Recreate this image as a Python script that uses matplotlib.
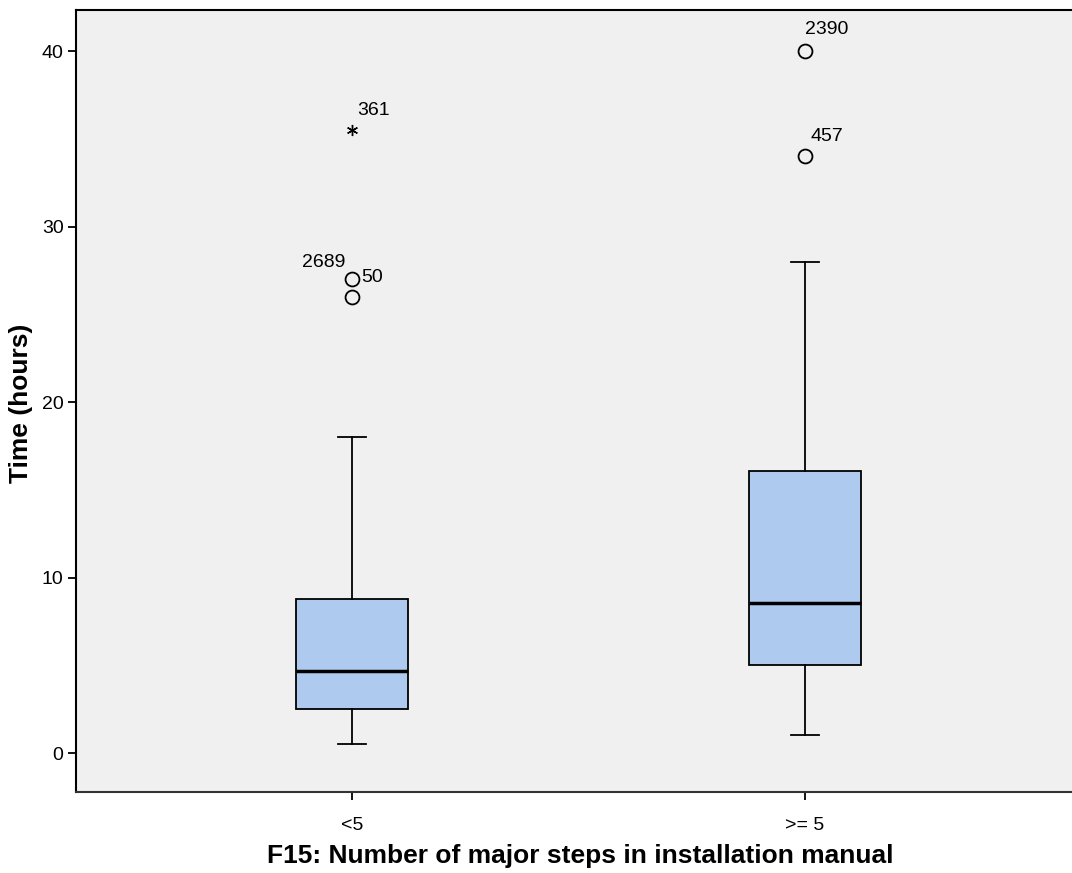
import matplotlib
matplotlib.use("Agg")
import matplotlib.pyplot as plt

plt.rcParams['font.family'] = ['Liberation Sans', 'DejaVu Sans']

# box summaries
groups = ['<5', '>= 5']
whislo = [0.5, 1.0]
q1 = [2.5, 5.0]
med = [4.7, 8.55]
q3 = [8.8, 16.05]
whishi = [18.0, 28.0]

# outliers (circles) and extremes (stars)
out_x = [1, 1, 2, 2]
out_y = [26, 27, 34, 40]
ext_x = [1]
ext_y = [35.5]

# case labels: (x, y, text, ha)
case_labels = [
    (1.011, 36.64, '361', 'left'),
    (0.985, 27.98, '2689', 'right'),
    (1.020, 27.07, '50', 'left'),
    (2.000, 41.25, '2390', 'left'),
    (2.011, 35.16, '457', 'left'),
]

fig = plt.figure(figsize=(10.72, 8.73), dpi=100)
ax = fig.add_axes([0.0709, 0.0928, 0.9291, 0.8957])
ax.set_facecolor('#f0f0f0')

stats = []
for i in range(len(groups)):
    stats.append(dict(label=groups[i], whislo=whislo[i], q1=q1[i], med=med[i],
                      q3=q3[i], whishi=whishi[i], fliers=[]))

ax.bxp(stats, positions=[1, 2], widths=0.247, patch_artist=True,
       showfliers=False,
       boxprops=dict(facecolor='#aecbef', edgecolor='black', linewidth=1.3),
       medianprops=dict(color='black', linewidth=2.5),
       whiskerprops=dict(color='black', linewidth=1.3),
       capprops=dict(color='black', linewidth=1.3),
       capwidths=0.062)

ax.plot(out_x, out_y, 'o', ms=10, mfc='none', mec='black', mew=1.3)
ax.plot(ext_x, ext_y, marker=(6, 2, 0), ls='none', ms=8, color='black', mew=1.0)

for x, y, t, ha in case_labels:
    ax.text(x, y, t, fontsize=14, ha=ha, va='center')

ax.set_xlim(0.391, 2.589)
ax.set_ylim(-2.22, 42.34)
ax.set_yticks([0, 10, 20, 30, 40])
ax.set_xticks([1, 2])
ax.set_xticklabels(groups)
ax.tick_params(axis='both', labelsize=14, length=6, width=1.3, direction='out')
ax.tick_params(axis='x', pad=12)
ax.tick_params(axis='y', pad=3)
ax.spines['right'].set_visible(False)
for s in ['left', 'bottom', 'top']:
    ax.spines[s].set_linewidth(1.5)
ax.spines['bottom'].set_color('#333333')

ax.set_ylabel('Time (hours)', fontsize=19, fontweight='bold')
ax.set_xlabel('F15: Number of major steps in installation manual', fontsize=19,
              fontweight='bold')
ax.yaxis.set_label_coords(-0.043, 0.497)
ax.xaxis.set_label_coords(0.506, -0.0665)

fig.savefig('out.png', dpi=100)
